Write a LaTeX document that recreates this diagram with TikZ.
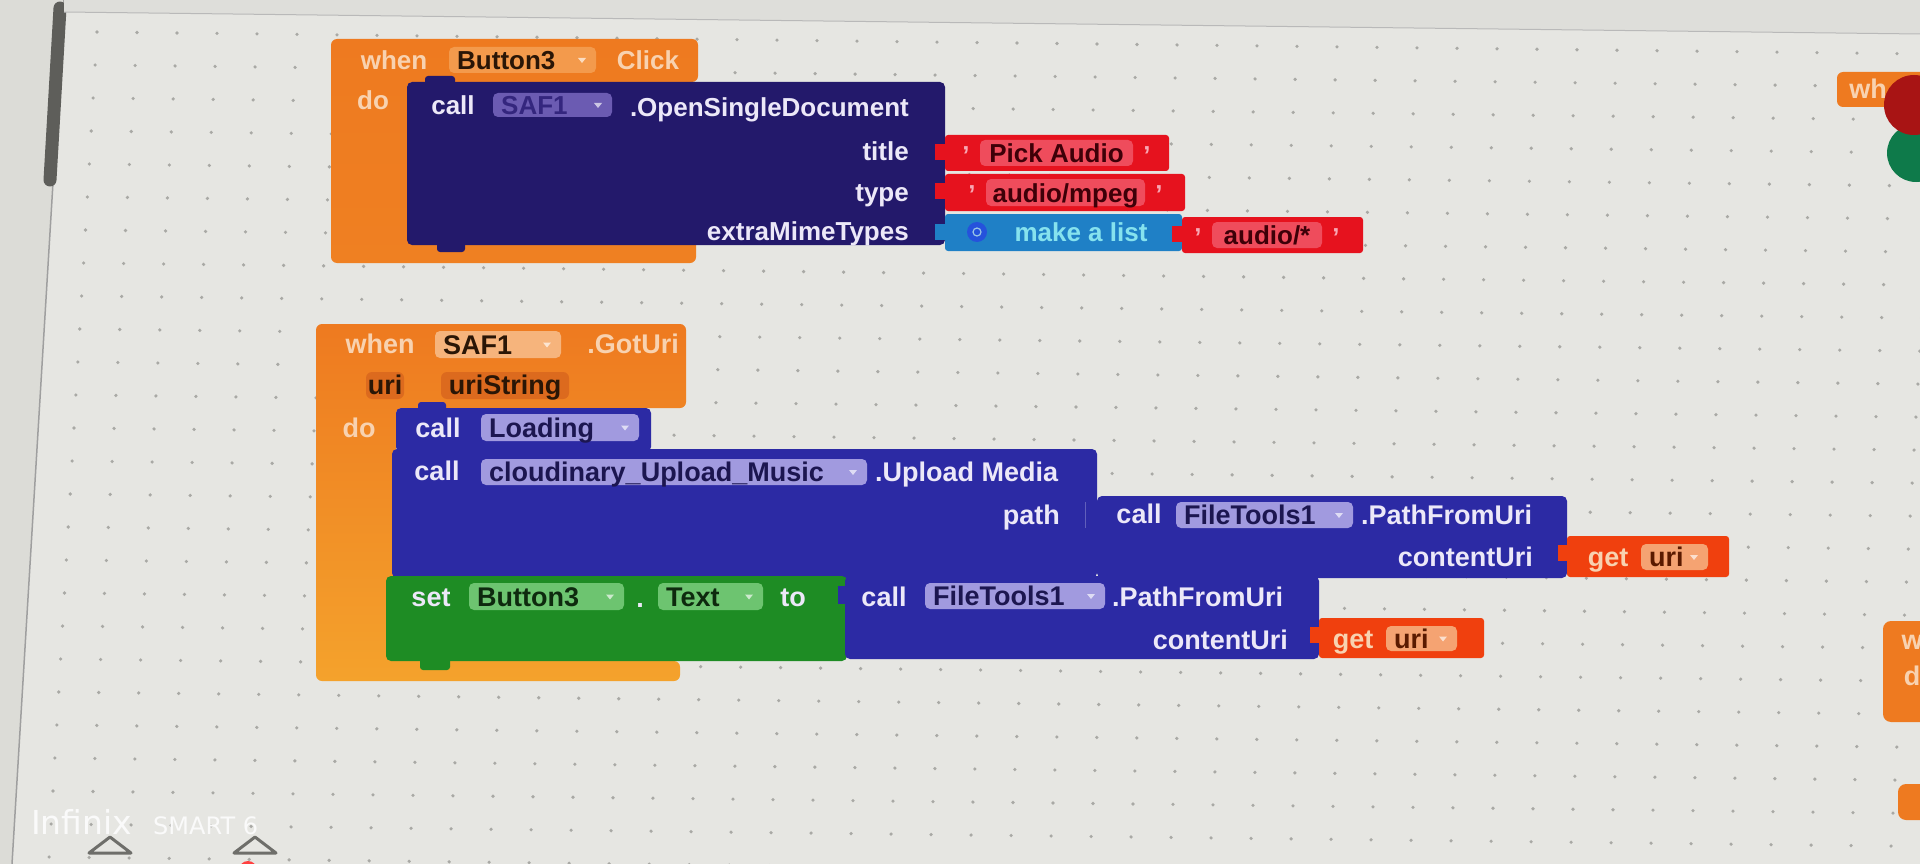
\documentclass[tikz,border=0pt]{standalone}
\usepackage{fontspec}
\setmainfont{Liberation Sans}
\newfontfamily\wmfont{DejaVu Sans}
\definecolor{canvas}{HTML}{E6E6E2}
\definecolor{leftpanel}{HTML}{DCDCD7}
\definecolor{topband}{HTML}{DEDEDA}
\definecolor{dotc}{HTML}{A9A9A5}
\definecolor{scroll}{HTML}{5E5E5A}
\definecolor{orng}{HTML}{EE7A20}
\definecolor{orngB}{HTML}{F4A22C}
\definecolor{orngdd}{HTML}{F39A4C}
\definecolor{orngdd2}{HTML}{F6B47C}
\definecolor{parorng}{HTML}{DC6A1E}
\definecolor{peach}{HTML}{F8D2B0}
\definecolor{ddark}{HTML}{2A1606}
\definecolor{navy}{HTML}{23196B}
\definecolor{navydd}{HTML}{6B5BB2}
\definecolor{navyddt}{HTML}{34267E}
\definecolor{royal}{HTML}{2C2AA4}
\definecolor{royaldd}{HTML}{A19ADF}
\definecolor{royalddt}{HTML}{1C1650}
\definecolor{lbl}{HTML}{ECE8F8}
\definecolor{txtred}{HTML}{E6121E}
\definecolor{txtredin}{HTML}{EF4C5C}
\definecolor{txtdark}{HTML}{3E0008}
\definecolor{quotec}{HTML}{F8A8B4}
\definecolor{listblue}{HTML}{1F80C6}
\definecolor{gearblue}{HTML}{2552DC}
\definecolor{listtxt}{HTML}{86E2EE}
\definecolor{getred}{HTML}{F0400E}
\definecolor{getdd}{HTML}{F5A372}
\definecolor{getddt}{HTML}{5A1A00}
\definecolor{grn}{HTML}{1E8C24}
\definecolor{grndd}{HTML}{6DC470}
\definecolor{grnddt}{HTML}{0E2A0E}
\definecolor{darkred}{HTML}{A81414}
\definecolor{dkgreen}{HTML}{0E7A4A}
\definecolor{trigray}{HTML}{6E6E6A}
\def\blkfont{\bfseries\fontsize{26}{28}\selectfont}
\tikzset{
  wtxt/.style={font=\blkfont, text=lbl, inner sep=0pt, text height=21pt, text depth=2pt},
  ddtxt/.style={font=\blkfont, inner sep=0pt, text height=21pt, text depth=2pt},
}
% dropdown box: fill, text colour, x1, y1, x2, y2, text, name
\newcommand\ddbox[8]{%
  \fill[#1, rounded corners=5] (#3,#4) rectangle (#5,#6);
  \node[ddtxt, text=#2, anchor=west] (#8) at ({#3+8},{(#4+#6)/2}) {#7};
  \fill[white!65!#1] ({#5-18},{(#4+#6)/2-2}) -- ++(8,0) -- ++(-4,5) -- cycle;
}
% text block: x1, y1, x2, y2, inner x1, inner x2, text, name
\newcommand\strblock[8]{%
  \fill[txtred, rounded corners=3] (#1,#2) rectangle (#3,#4);
  \fill[txtred] ({#1-10},{#2+9}) rectangle ({#1+2},{#2+25});
  \fill[txtredin, rounded corners=5] (#5,{#2+5}) rectangle (#6,{#4-5});
  \node[ddtxt, text=txtdark] (#8) at ({(#5+#6)/2},{(#2+#4)/2}) {#7};
  \node[ddtxt, text=quotec] (#8ql) at ({#5-14},{(#2+#4)/2+2}) {'};
  \node[ddtxt, text=quotec] (#8qr) at ({#6+14},{(#2+#4)/2+2}) {'};
}
\begin{document}
\begin{tikzpicture}[x=1pt,y=-1pt]
\useasboundingbox (0,0) rectangle (1920,864);
\fill[canvas] (0,0) rectangle (1920,864);
% grid dots
\foreach \i in {0,...,46} {
  \foreach \j in {0,...,25} {
    \fill[dotc] ({97+40*\i-0.058*(33*\j)},{32+33*\j+0.012*40*\i}) circle (1.8);
  }
}
% left panel and scrollbar
\fill[leftpanel] (0,0) -- (64,0) -- (12,864) -- (0,864) -- cycle;
\draw[line width=1.5, gray!75] (64,0) -- (12,864);
\draw[line width=13, line cap=round, scroll] (60,8) -- (50,180);
% top band
\fill[topband] (64,0) -- (1920,0) -- (1920,34) -- (64,12) -- cycle;
\draw[gray!55, line width=1] (64,12) -- (1920,34);

% ================= Block 1 =================
\path[top color=orng, bottom color=orng!85!orngB, rounded corners=6]
  (331,39) -- (698,39) -- (698,82) -- (407,82) -- (407,239) -- (696,239) -- (696,263) -- (331,263) -- cycle;
\node[wtxt, text=peach] (w1) at (394,60) {when};
\ddbox{orngdd}{ddark}{449}{47}{596}{73}{Button3}{b3a}
\node[wtxt, text=peach] (click) at (648,60) {Click};
\node[wtxt, text=peach] (do1) at (373,100) {do};

\fill[navy, rounded corners=5] (407,82) rectangle (945,245);
\fill[navy, rounded corners=3] (425,76) rectangle (455,88);
\fill[navy, rounded corners=3] (437,240) rectangle (465,252);
\node[wtxt] (call1) at (453,105) {call};
\ddbox{navydd}{navyddt}{493}{93}{612}{117}{SAF1}{saf1a}
\node[wtxt, anchor=east] (osd) at (909,107) {.OpenSingleDocument};
\node[wtxt, anchor=east] (ti) at (909,151) {title};
\node[wtxt, anchor=east] (ty) at (909,192) {type};
\node[wtxt, anchor=east] (em) at (909,231) {extraMimeTypes};

\strblock{945}{135}{1169}{171}{980}{1133}{Pick Audio}{pick}
\strblock{945}{174}{1185}{211}{986}{1145}{audio/mpeg}{mpeg}
\fill[listblue, rounded corners=3] (945,214) rectangle (1182,251);
\fill[listblue] (935,224) rectangle (947,240);
\fill[gearblue] (977,232) circle (10);
\draw[white!55!listblue, line width=1.2] (977,232) circle (4);
\node[ddtxt, text=listtxt] (mkl) at (1081,232) {make a list};
\strblock{1182}{217}{1363}{253}{1212}{1322}{audio/*}{aall}

% ================= Block 2 =================
\def\blkfont{\bfseries\fontsize{27}{29}\selectfont}
\path[top color=orng, bottom color=orngB, rounded corners=6]
  (316,324) -- (686,324) -- (686,408) -- (396,408) -- (396,661) -- (680,661) -- (680,681) -- (316,681) -- cycle;
\node[wtxt, text=peach] (w2) at (380,344) {when};
\ddbox{orngdd2}{ddark}{435}{331}{561}{358}{SAF1}{saf1b}
\node[wtxt, text=peach] (goturi) at (633,344) {.GotUri};
\fill[parorng, rounded corners=6] (366,372) rectangle (404,399);
\node[ddtxt, text=ddark] (uri0) at (385,385) {uri};
\fill[parorng, rounded corners=6] (441,372) rectangle (569,399);
\node[ddtxt, text=ddark] (uristr) at (505,385) {uriString};
\node[wtxt, text=peach] (do2) at (359,428) {do};

% call Loading
\fill[royal, rounded corners=5] (396,408) rectangle (651,452);
\fill[royal, rounded corners=3] (418,402) rectangle (446,412);
\node[wtxt] (call2) at (438,428) {call};
\ddbox{royaldd}{royalddt}{481}{414}{639}{441}{Loading}{load}

% call cloudinary Upload Media
\fill[royal, rounded corners=5] (392,449) rectangle (1097,578);
\node[wtxt] (call3) at (437,471) {call};
\ddbox{royaldd}{royalddt}{481}{459}{867}{485}{cloudinary\_Upload\_Music}{cloud}
\node[wtxt, anchor=west] (upm) at (875,472) {.Upload Media};
\node[wtxt, anchor=east] (path) at (1060,515) {path};

% call FileTools1.PathFromUri (path)
\fill[royal, rounded corners=5] (1097,496) rectangle (1567,578);
\draw[royal!75!white, line width=1] (1085,502) -- (1085,528);
\node[wtxt] (call4) at (1139,514) {call};
\ddbox{royaldd}{royalddt}{1176}{502}{1353}{528}{FileTools1}{ft1a}
\node[wtxt, anchor=west] (pfu1) at (1361,515) {.PathFromUri};
\node[wtxt, anchor=east] (cu1) at (1533,557) {contentUri};
\fill[getred, rounded corners=3] (1567,536) rectangle (1729,577);
\fill[getred] (1558,545) rectangle (1569,561);
\node[wtxt, text=peach] (get1) at (1608,557) {get};
\ddbox{getdd}{getddt}{1641}{544}{1708}{570}{uri}{uri1}

% set Button3.Text to
\fill[grn, rounded corners=5] (386,576) rectangle (847,661);
\fill[grn, rounded corners=3] (420,656) rectangle (450,670);
\node[wtxt] (set) at (431,597) {set};
\ddbox{grndd}{grnddt}{469}{583}{624}{610}{Button3}{b3b}
\node[wtxt] (dot) at (640,598) {.};
\ddbox{grndd}{grnddt}{658}{583}{763}{610}{Text}{txt}
\node[wtxt] (to) at (793,597) {to};

% call FileTools1.PathFromUri (set)
\fill[royal, rounded corners=5] (845,576) rectangle (1319,659);
\fill[royal] (838,586) rectangle (848,604);
\node[wtxt] (call5) at (884,597) {call};
\ddbox{royaldd}{royalddt}{925}{583}{1105}{609}{FileTools1}{ft1b}
\node[wtxt, anchor=west] (pfu2) at (1112,597) {.PathFromUri};
\node[wtxt, anchor=east] (cu2) at (1288,640) {contentUri};
\fill[getred, rounded corners=3] (1319,618) rectangle (1484,658);
\fill[getred] (1310,627) rectangle (1321,643);
\node[wtxt, text=peach] (get2) at (1353,639) {get};
\ddbox{getdd}{getddt}{1386}{626}{1457}{651}{uri}{uri2}

% ================= right edge partial blocks =================
\fill[orng, rounded corners=6] (1837,72) rectangle (1940,107);
\node[wtxt, text=peach] (wr1) at (1868,89) {wh};
\fill[dkgreen] (1916,153) circle (29);
\fill[darkred] (1914,105) circle (30);
\fill[orng, rounded corners=8] (1883,621) rectangle (1950,722);
\node[wtxt, text=peach] (wr2) at (1912,640) {w};
\node[wtxt, text=peach] (dr2) at (1912,676) {d};
\fill[orng, rounded corners=8] (1898,784) rectangle (1950,820);

% ================= watermark =================
\node[font=\wmfont\fontsize{33}{35}\selectfont, text=white!96!gray, anchor=base west, inner sep=0pt] (inf) at (31,834) {Infinix};
\node[font=\wmfont\fontsize{24}{26}\selectfont, text=white!96!gray, anchor=base west, inner sep=0pt] (sm) at (153,834) {SMART 6};
\draw[trigray, line width=3, line join=round] (89,853) -- (131,853) -- (110,837) -- cycle;
\draw[trigray, line width=3, line join=round] (234,853) -- (276,853) -- (255,837) -- cycle;
\fill[red!75] (248,870) circle (9);
\end{tikzpicture}
\end{document}
